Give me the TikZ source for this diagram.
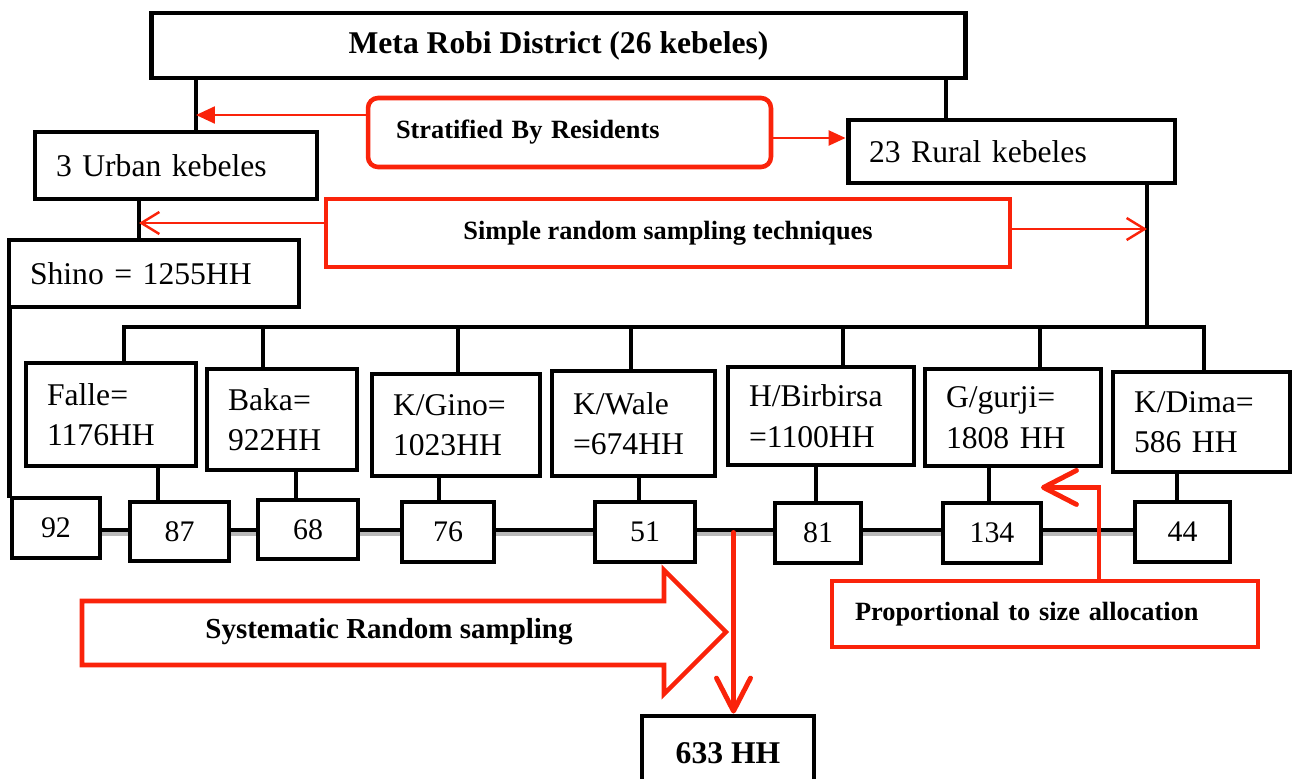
\documentclass[tikz,border=0pt]{standalone}
\usepackage{fontspec}
\setmainfont{Liberation Serif}
\usepackage{xcolor}
\usetikzlibrary{positioning,arrows.meta,calc}
\definecolor{samplered}{RGB}{250,35,10}

\begin{document}
\begin{tikzpicture}[x=0.02cm, y=-0.02cm,
  box/.style={draw, line width=2.8pt, fill=white, inner xsep=0.42cm, inner ysep=0pt, align=left, font=\fontsize{18}{23}\selectfont},
  numbox/.style={draw, line width=2.8pt, fill=white, inner sep=0pt, align=center, font=\fontsize{17}{20}\selectfont},
  method/.style={draw=samplered, line width=2.6pt, inner sep=0pt, font=\bfseries\fontsize{15}{18}\selectfont},
  link/.style={line width=2.7pt, line cap=rect},
  shadowline/.style={line width=2.2pt, gray!55},
  thinred/.style={samplered, line width=1.4pt},
  thickred/.style={samplered, line width=2.8pt, line cap=round, -{Straight Barb[length=0.66cm, width=0.68cm, round]}}
]
\useasboundingbox (0,0) rectangle (1292,778);

% District and residence strata
\node[box, align=center, font=\bfseries\fontsize{18}{22}\selectfont, minimum width=16.3cm, minimum height=1.3cm, inner xsep=0pt] (district) at (558.5,45.5) {Meta Robi District (26 kebeles)};
\node[box, text width=4.80cm, minimum height=1.34cm] (urban) at (176,165.5) {3 Urban kebeles};
\node[box, text width=5.70cm, minimum height=1.26cm] (rural) at (1011.5,151.5) {23 Rural kebeles};
\node[box, text width=4.96cm, minimum height=1.34cm] (shino) at (154,273.5) {Shino = 1255HH};

% Sampling methods
\node[method, rounded corners=0.2cm, text width=6.94cm, inner xsep=0.56cm, align=left, minimum height=1.38cm] (strat) at (569.5,132.5) {Stratified By Residents};
\node[method, minimum width=13.68cm, minimum height=1.36cm] (simple) at (668,233) {Simple random sampling techniques};
\node[method, line width=2.2pt, text width=7.60cm, inner xsep=0.46cm, align=left, minimum height=1.32cm] (prop) at (1045,614) {Proportional to size allocation};

% Rural kebeles
\node[box, text width=2.56cm, minimum height=2.06cm] (falle) at (111,414.5) {Falle=\\1176HH};
\node[box, text width=2.16cm, minimum height=2.02cm] (baka) at (282,419.5) {Baka=\\922HH};
\node[box, text width=2.52cm, minimum height=2.04cm] (kgino) at (456,425) {K/Gino=\\1023HH};
\node[box, text width=2.42cm, minimum height=2.10cm] (kwale) at (633.5,423.5) {K/Wale\\=674HH};
\node[box, text width=2.88cm, minimum height=1.96cm] (hbir) at (821,416) {H/Birbirsa\\=1100HH};
\node[box, text width=2.68cm, minimum height=1.94cm] (ggur) at (1013,417.5) {G/gurji=\\1808 HH};
\node[box, text width=2.70cm, minimum height=2.00cm] (kdima) at (1201.5,422) {K/Dima=\\586 HH};

% Sample sizes
\node[numbox, minimum width=1.76cm, minimum height=1.20cm] (n92) at (56,528) {92};
\node[numbox, minimum width=1.98cm, minimum height=1.18cm] (n87) at (179.5,531.5) {87};
\node[numbox, minimum width=2.00cm, minimum height=1.18cm] (n68) at (308,529.5) {68};
\node[numbox, minimum width=1.84cm, minimum height=1.20cm] (n76) at (448,532) {76};
\node[numbox, minimum width=2.00cm, minimum height=1.20cm] (n51) at (645,532) {51};
\node[numbox, minimum width=1.72cm, minimum height=1.20cm] (n81) at (818,533) {81};
\node[numbox, minimum width=1.96cm, minimum height=1.20cm] (n134) at (992,533) {134};
\node[numbox, minimum width=1.90cm, minimum height=1.20cm] (n44) at (1182.5,532) {44};
\node[box, align=center, font=\bfseries\fontsize{18}{22}\selectfont, minimum width=3.44cm, minimum height=1.5cm, inner xsep=0pt] (total) at (728,753.5) {633 HH};

% Systematic sampling arrow
\draw[samplered, line width=2.6pt] (82,601) -- (664,601) -- (664,570) -- (726,632) -- (664,694) -- (664,665) -- (82,665) -- cycle;
\node[font=\bfseries\fontsize{16.5}{20}\selectfont] (systematic) at (389,632) {Systematic Random sampling};

% Tree lines
\coordinate (ustem) at ([xshift=0.40cm]urban.north);
\coordinate (rtop) at ([xshift=-1.31cm]rural.north);
\coordinate (sstem) at ([xshift=-0.74cm]urban.south);
\coordinate (rstem) at ([xshift=2.71cm]rural.south);
\coordinate (busL) at (124,327);
\coordinate (busR) at (1204,327);
\coordinate (rowline) at (0,530);
\draw[link] (ustem) -- (ustem |- district.south);
\draw[link] (rtop) -- (rtop |- district.south);
\draw[link] (sstem) -- (sstem |- shino.north);
\draw[link] (rstem) -- (rstem |- busR);
\draw[link] (busL) -- (busR);
\foreach \k/\dx in {falle/0.26, baka/-0.38, kgino/0.04, kwale/-0.05, hbir/0.44, ggur/0.54, kdima/0.05}
  \draw[link] ([xshift=\dx cm]\k.north) -- ([xshift=\dx cm]\k.north |- busL);
\foreach \k/\n/\dx in {falle/n87/0.94, baka/n68/0.28, kgino/n76/-0.34, kwale/n51/0.11, hbir/n81/-0.10, ggur/n134/-0.48, kdima/n44/-0.49}
  \draw[link] ([xshift=\dx cm]\k.south) -- ([xshift=\dx cm]\k.south |- \n.north);
\draw[link] ([xshift=0.06cm]shino.south west) -- ([xshift=0.06cm]shino.south west |- n92.north);
\foreach \a/\b in {n92/n87, n87/n68, n68/n76, n76/n51, n51/n81, n81/n134, n134/n44} {
  \draw[shadowline] ([yshift=-0.08cm]\a.east |- rowline) -- ([yshift=-0.08cm]\b.west |- rowline);
  \draw[link] (\a.east |- rowline) -- (\b.west |- rowline);
}

% Method arrows
\draw[thinred, -{Triangle[length=0.38cm, width=0.34cm]}] ([yshift=0.35cm]strat.west) -- ([yshift=0.35cm]strat.west -| ustem);
\draw[thinred, -{Triangle[length=0.34cm, width=0.30cm]}] ([yshift=-0.11cm]strat.east) -- ([yshift=-0.11cm]strat.east -| rural.west);
\draw[thinred, -{Straight Barb[length=0.36cm, width=0.44cm]}] ([yshift=0.20cm]simple.west) -- ([yshift=0.20cm]simple.west -| sstem);
\draw[thinred, -{Straight Barb[length=0.36cm, width=0.44cm]}] ([yshift=0.08cm]simple.east) -- ([yshift=0.08cm]simple.east -| rstem);
\coordinate (split) at ($(n51.east)!0.48!(n81.west)$);
\draw[thickred] (split) -- (split |- total.north);
\coordinate (ptip) at ([xshift=0.56cm, yshift=-0.38cm]ggur.south);
\draw[thickred] ([xshift=1.08cm]prop.north) |- (ptip);

\end{tikzpicture}
\end{document}
